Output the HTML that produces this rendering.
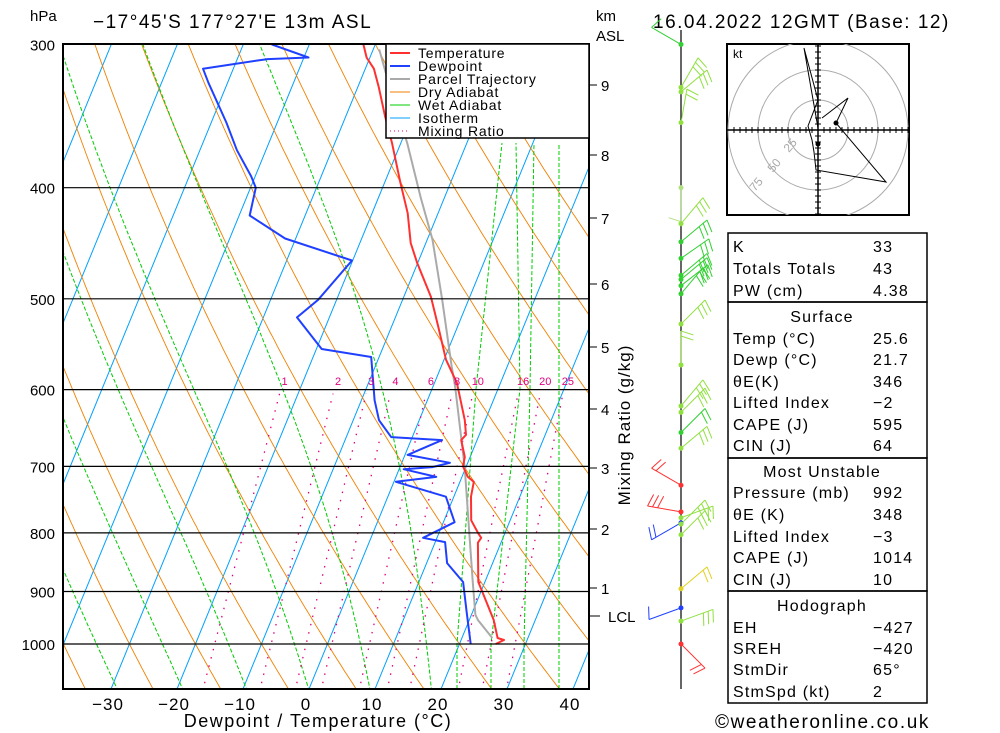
<!DOCTYPE html>
<html><head><meta charset="utf-8"><style>
body{margin:0;background:#fff;}
svg{display:block;font-family:"Liberation Sans",sans-serif;}
</style></head><body>
<svg id="chart" width="1000" height="733" viewBox="0 0 1000 733">
<defs><clipPath id="pc"><rect x="63" y="44" width="526" height="645"/></clipPath>
<clipPath id="hc"><rect x="727" y="44" width="182" height="171"/></clipPath></defs>
<rect width="1000" height="733" fill="#fff"/>
<g id="bg" clip-path="url(#pc)"></g>
<g id="fg" clip-path="url(#pc)"></g>
<g id="ax"></g>
<text x="30" y="21" font-size="15">hPa</text>
<text x="93" y="28" font-size="19" letter-spacing="1.5">−17°45'S 177°27'E 13m ASL</text>
<text x="596" y="21" font-size="15">km</text>
<text x="596" y="41" font-size="15">ASL</text>
<text x="653" y="28" font-size="19" letter-spacing="1.5">16.04.2022 12GMT (Base: 12)</text>
<text x="318" y="727" font-size="18" text-anchor="middle" letter-spacing="1.5">Dewpoint / Temperature (°C)</text>
<text transform="translate(630,425) rotate(-90)" font-size="17" text-anchor="middle" letter-spacing="1">Mixing Ratio (g/kg)</text>
<text x="715" y="728" font-size="19" letter-spacing="1.6">©weatheronline.co.uk</text>
<g>
<rect x="386" y="44" width="203" height="94" fill="#fff" stroke="#000" stroke-width="1.5"/>
<line x1="390" x2="410" y1="53" y2="53" stroke="#ff3030" stroke-width="2"/><text x="418" y="58" font-size="14" letter-spacing="0.8">Temperature</text>
<line x1="390" x2="410" y1="66" y2="66" stroke="#2040ff" stroke-width="2"/><text x="418" y="71" font-size="14" letter-spacing="0.8">Dewpoint</text>
<line x1="390" x2="410" y1="79" y2="79" stroke="#aaa" stroke-width="2"/><text x="418" y="84" font-size="14" letter-spacing="0.8">Parcel Trajectory</text>
<line x1="390" x2="410" y1="92" y2="92" stroke="#f08000" stroke-width="1"/><text x="418" y="97" font-size="14" letter-spacing="0.8">Dry Adiabat</text>
<line x1="390" x2="410" y1="105" y2="105" stroke="#00cc00" stroke-width="1"/><text x="418" y="110" font-size="14" letter-spacing="0.8">Wet Adiabat</text>
<line x1="390" x2="410" y1="118" y2="118" stroke="#00a0ff" stroke-width="1"/><text x="418" y="123" font-size="14" letter-spacing="0.8">Isotherm</text>
<line x1="390" x2="410" y1="131" y2="131" stroke="#e0007f" stroke-width="1" stroke-dasharray="1,3"/><text x="418" y="136" font-size="14" letter-spacing="0.8">Mixing Ratio</text>
</g>
<g id="hodo"></g>
<g id="wind"></g>
<g id="tables"></g>
</svg>
<script>
// ---- data ----
const tempP=[300,308,315,327,347,366,396,421,447,465,498,529,565,592,638,657,664,687,700,715,722,744,780,800,808,816,883,903,953,988,992,1000];
const tempT=[-31.8,-30.5,-28.7,-26.8,-24.0,-21.3,-17.6,-14.6,-12.3,-10.1,-5.9,-2.9,0.3,3.4,6.9,8.0,7.6,9.2,9.5,10.9,12.1,12.6,14.1,15.9,16.7,16.5,19.0,20.4,23.7,25.4,26.5,25.5];
const dewP=[300,308,309,310,315,324,351,371,391,400,423,443,463,501,519,553,562,613,638,660,664,684,695,701,704,715,722,744,783,808,815,850,883,940,1000];
const dewT=[-45.7,-39.3,-45.4,-47.1,-54.6,-52.9,-47.7,-44.4,-40.6,-39.2,-38.4,-31.6,-20.1,-22.8,-24.9,-19.2,-11.2,-8.0,-6.1,-3.2,4.7,0.4,7.3,4.9,0.7,6.1,0.3,8.8,11.7,7.9,11.5,13.1,16.7,19.2,21.7];
const parcelP=[303,316,366,408,444,501,573,597,701,879,943,953,988];
const parcelT=[-29.1,-26.9,-19.0,-13.6,-9.2,-4.0,1.6,3.4,9.8,18.0,20.6,21.3,24.6];
const pLevels=[300,400,500,600,700,800,900,1000];
const xTicks=[-30,-20,-10,0,10,20,30,40];
const mixRatios=[1,2,3,4,6,8,10,16,20,25];
const kmLabels=[9,8,7,6,5,4,3,2,1];
const kmY=[85,155,218,284,347,409,468,529,588];
const windP=[300,327,330,351,400,430,446,461,477,481,487,495,526,571,620,628,654,675,727,767,776,784,786,803,895,930,955,1000];
const windDir=[300,30,50,10,180,40,50,55,50,50,52,40,45,0,40,45,45,50,300,280,70,240,45,45,50,250,70,135];
const windSpd=[10,25,25,20,5,25,25,25,25,30,25,25,25,15,25,25,20,30,20,25,20,15,25,25,20,10,25,15];
const windCol=["#30d030","#90e040","#90e040","#90e040","#b0e080","#90e040","#30d030","#30d030","#30d030","#30d030","#30d030","#30d030","#90e040","#90e040","#90e040","#90e040","#30d030","#90e040","#ff3030","#ff3030","#90e040","#2040ff","#90e040","#90e040","#e0d020","#2040ff","#90e040","#ff3030"];
// ---- axes ----
const Y=p=>644+498*Math.log(p/1000);
const X=(T,p)=>309+6.6*T+0.41*(689-Y(p));
const NS="http://www.w3.org/2000/svg";
function el(tag,attrs,parent){const e=document.createElementNS(NS,tag);for(const k in attrs)e.setAttribute(k,attrs[k]);parent.appendChild(e);return e;}
const bg=document.getElementById('bg'),fg=document.getElementById('fg'),ax=document.getElementById('ax');
function pathFrom(pts){return pts.map((q,i)=>(i?'L':'M')+q[0].toFixed(1)+','+q[1].toFixed(1)).join('');}
const pr=[];for(let p=1100;p>=290;p-=5)pr.push(p);
for(let T=-110;T<=40;T+=10){const l=el('line',{x1:X(T,1100),y1:Y(1100),x2:X(T,290),y2:Y(290),stroke:'#00a0ff','stroke-width':1},bg);

}
for(let T0=-70;T0<=90;T0+=10){const th=T0+273.15;const pts=pr.map(p=>[X(th*Math.pow(p/1000,0.286)-273.15,p),Y(p)]);
const e=el('path',{d:pathFrom(pts),fill:'none',stroke:'#f08000','stroke-width':0.9},bg);

}
function rs(T,p){const es=6.112*Math.exp(17.67*T/(T+243.5));return 0.622*es/(p-es);}
function dTdp(T,p){const Tk=T+273.15,r=rs(T,p),L=2.5e6,Rd=287;return (Rd*Tk+L*r)/(p*(1005+L*L*r*0.622/(Rd*Tk*Tk)));}
for(const tw of [-45,-35,-25,-15,-5,5,15]){const up=[];let T=tw;for(let p=1000;p>=290;p-=5){up.push([X(T,p),Y(p)]);T-=dTdp(T,p)*5;}
const dn=[];T=tw;for(let p=1000;p<=1100;p+=5){dn.unshift([X(T,p),Y(p)]);T+=dTdp(T,p)*5;}
const e=el('path',{d:pathFrom(dn.concat(up)),fill:'none',stroke:'#00cc00','stroke-width':1,'stroke-dasharray':'4,2'},bg);

}
[[[457,689],[457,644],[476,389],[502,143]],[[491,689],[491,644],[520,389],[516,143]],[[524,689],[524,644],[530,389],[534,143]],[[559,689],[559,143]]].forEach(pts=>{
const e=el('path',{d:pathFrom(pts),fill:'none',stroke:'#00cc00','stroke-width':1,'stroke-dasharray':'4,2'},bg);

});
function tdw(w,p){const e=w*p/(622+w);const l=Math.log(e/6.112);return 243.5*l/(17.67-l);}
mixRatios.forEach(w=>{const e=el('line',{x1:X(tdw(w,1100),1100),y1:Y(1100),x2:X(tdw(w,600),600),y2:Y(600)+4,stroke:'#e0007f','stroke-width':1.3,'stroke-dasharray':'1.5,7'},bg);


const t=el('text',{x:X(tdw(w,600),600)+5,y:385,'font-size':11,fill:'#e0007f','text-anchor':'middle'},ax);t.textContent=w;

});
pLevels.forEach(p=>{const l=el('line',{x1:63,x2:589,y1:Y(p),y2:Y(p),stroke:'#000','stroke-width':1.2},ax);


const t=el('text',{x:55,y:Y(p)+6,'font-size':15,'text-anchor':'end'},ax);t.textContent=p;

});
xTicks.forEach(T=>{const t=el('text',{x:306+6.6*T,y:710,'font-size':17,'text-anchor':'middle','letter-spacing':1},ax);t.textContent=(T<0?'−':'')+Math.abs(T);

});
const fr=el('rect',{x:63,y:44,width:526,height:645,fill:'none',stroke:'#000','stroke-width':2},ax);


kmLabels.forEach((k,i)=>{el('line',{x1:589,x2:597,y1:kmY[i],y2:kmY[i],stroke:'#000'},ax);
const t=el('text',{x:601,y:kmY[i]+6,'font-size':15},ax);t.textContent=k;

});
el('line',{x1:589,x2:600,y1:616,y2:616,stroke:'#000'},ax);
const lcl=el('text',{x:608,y:622,'font-size':15},ax);lcl.textContent='LCL';


function prof(P,T,col,w,name){const e=el('path',{d:pathFrom(P.map((p,i)=>[X(T[i],p),Y(p)])),fill:'none',stroke:col,'stroke-width':w,'stroke-linejoin':'round'},fg);

}
prof(parcelP,parcelT,'#aaa',2,'parcel-trajectory');
prof(tempP,tempT,'#ff3030',2,'temperature-line');
prof(dewP,dewT,'#2040ff',2,'dewpoint-line');
// wind column
const wg=document.getElementById('wind');
el('line',{x1:681,x2:681,y1:30,y2:689,stroke:'#000','stroke-width':1.2},wg);
windP.forEach((p,i)=>{const y=Y(p),a=windDir[i]*Math.PI/180,L=34;const ex=681+Math.sin(a)*L,ey=y-Math.cos(a)*L;
const g=el('g',{stroke:windCol[i],fill:windCol[i],'stroke-width':1},wg);


el('line',{x1:681,y1:y,x2:ex,y2:ey},g);
let n=Math.round(windSpd[i]/10);for(let k=0;k<n;k++){const f=1-k*0.15;const bx=681+Math.sin(a)*L*f,by=y-Math.cos(a)*L*f;const b=a+Math.PI*0.6;
el('line',{x1:bx,y1:by,x2:bx+Math.sin(b)*13,y2:by-Math.cos(b)*13},g);}
el('circle',{cx:681,cy:y,r:2.5,stroke:'none'},g);});
// hodograph
const hg=document.getElementById('hodo');
el('rect',{x:727,y:44,width:182,height:171,fill:'#fff',stroke:'#000','stroke-width':2},hg);
const hc=el('g',{'clip-path':'url(#hc)'},hg);
[30,60,90].forEach(r=>el('circle',{cx:818,cy:130,r:r,fill:'none',stroke:'#aaa'},hc));
el('line',{x1:727,x2:909,y1:130,y2:130,stroke:'#000','stroke-width':1.5},hc);
el('line',{x1:818,x2:818,y1:44,y2:215,stroke:'#000','stroke-width':1.5},hc);
for(let d=-84;d<=90;d+=6){el('line',{x1:818+d,x2:818+d,y1:127,y2:133,stroke:'#000'},hc);el('line',{x1:815,x2:821,y1:130+d,y2:130+d,stroke:'#000'},hc);}
const hodoU=[0,-14,0,-10,-6,-4,-2,68,18,30,4];
const hodoV=[2,82,30,4,-10,-22,-40,-52,7,32,12];
el('path',{d:pathFrom(hodoU.map((u,i)=>[818+u,130-hodoV[i]])),fill:'none',stroke:'#000'},hc);
el('circle',{cx:836,cy:123,r:2.5},hc);el('circle',{cx:818,cy:144,r:2.5},hc);
[["25",789,153],["50",773,173],["75",755,192]].forEach(a=>{const t=el('text',{x:a[1],y:a[2],'font-size':12,fill:'#aaa',transform:`rotate(-50 ${a[1]} ${a[2]})`},hc);t.textContent=a[0];});
const kt=el('text',{x:733,y:58,'font-size':12},hg);kt.textContent='kt';
// tables
const tg=document.getElementById('tables');
const rows=[["K","33"],["Totals Totals","43"],["PW (cm)","4.38"],["#Surface"],["Temp (°C)","25.6"],["Dewp (°C)","21.7"],["θE(K)","346"],["Lifted Index","−2"],["CAPE (J)","595"],["CIN (J)","64"],["#Most Unstable"],["Pressure (mb)","992"],["θE (K)","348"],["Lifted Index","−3"],["CAPE (J)","1014"],["CIN (J)","10"],["#Hodograph"],["EH","−427"],["SREH","−420"],["StmDir","65°"],["StmSpd (kt)","2"]];
const rowY=[246,268,290,316,338,359,381,402,424,445,471,492,514,536,557,579,605,627,648,669,691];
[[233,302],[302,458],[458,591],[591,703]].forEach(b=>el('rect',{x:728,y:b[0],width:199,height:b[1]-b[0],fill:'none',stroke:'#000','stroke-width':1.5},tg));
rows.forEach((r,i)=>{const y=rowY[i]+6;
if(r[0][0]=='#'){const t=el('text',{x:822,y:y,'font-size':16,'text-anchor':'middle','letter-spacing':1.2},tg);t.textContent=r[0].slice(1);}
else{const t=el('text',{x:733,y:y,'font-size':16,'letter-spacing':1.2},tg);t.textContent=r[0];const v=el('text',{x:873,y:y,'font-size':16,'letter-spacing':1.2},tg);v.textContent=r[1];}});
</script>
</body></html>
